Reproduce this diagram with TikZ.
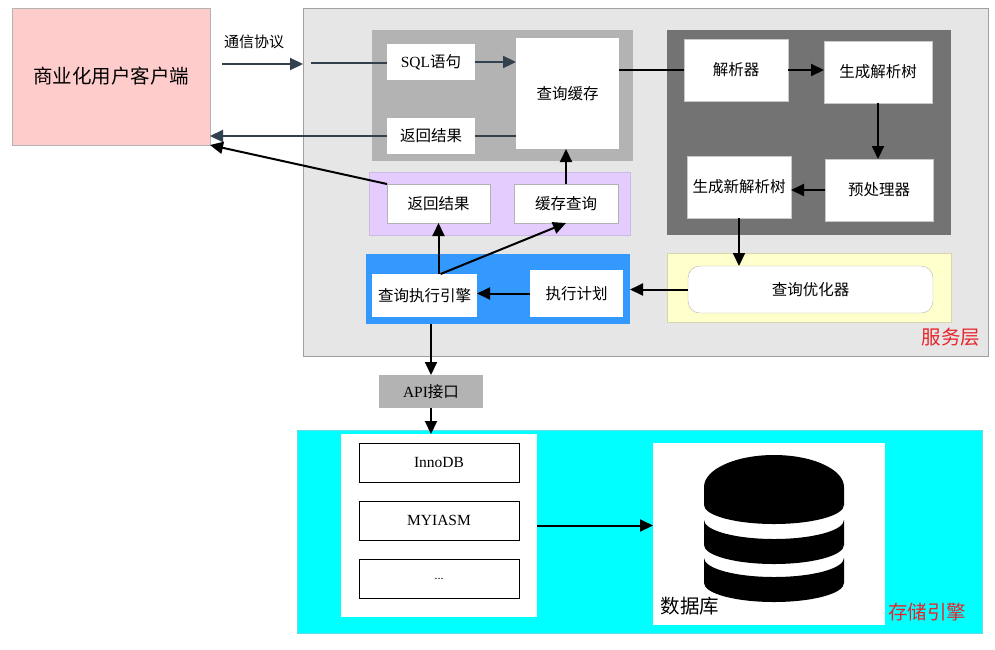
\documentclass[tikz,border=0pt]{standalone}
\usepackage{fontspec}
\setmainfont{Liberation Serif}
\newfontfamily\cjk{Noto Sans CJK SC}
\usepackage{tikz}
\usetikzlibrary{arrows.meta}
\definecolor{slate}{HTML}{33414F}
\definecolor{layerred}{HTML}{E8242B}

\begin{document}
\begin{tikzpicture}[x=1pt, y=-1pt,
                    area/.style={anchor=north west, inner sep=0pt, outer sep=0pt},
                    box/.style={area, fill=white, align=center, font=\cjk\fontsize{15.5}{18}\selectfont},
                    big/.style={font=\cjk\fontsize{19.5}{22}\selectfont},
                    flow/.style={line width=2pt, -{Triangle[length=13pt,width=12pt]}},
                    proto/.style={line width=2.2pt, draw=slate, fill=slate, -{Triangle[length=13pt,width=12pt]}}]
                    \useasboundingbox (0,0) rectangle (995,649);
                    % client and service layer
                    \node[area, big, fill={rgb,255:red,255;green,204;blue,204}, draw={rgb,255:red,179;green,179;blue,179}, minimum width=198pt, minimum height=137pt] (client) at (12,8) {商业化用户客户端};
                    \node[area, fill={rgb,255:red,230;green,230;blue,230}, draw={rgb,255:red,160;green,160;blue,160}, minimum width=685pt, minimum height=348pt] (service) at (303,8) {};
                    \node[font=\cjk\fontsize{15}{18}\selectfont] (proto) at (254,42) {通信协议};
                    \node[big, text=layerred, anchor=east] (servicelabel) at (984,337) {服务层};
                    \node[area, fill={rgb,255:red,179;green,179;blue,179}, minimum width=261pt, minimum height=131pt] (cachegrp) at (372,30) {};
                    \node[area, fill={rgb,255:red,115;green,115;blue,115}, minimum width=284pt, minimum height=205pt] (parsegrp) at (667,30) {};
                    \node[area, fill={rgb,255:red,229;green,204;blue,255}, draw={rgb,255:red,205;green,185;blue,230}, minimum width=261pt, minimum height=63pt] (resgrp) at (369,172) {};
                    \node[area, fill={rgb,255:red,255;green,255;blue,204}, draw={rgb,255:red,214;green,214;blue,173}, minimum width=284pt, minimum height=69pt] (optgrp) at (667,253) {};
                    \node[area, fill={rgb,255:red,51;green,153;blue,255}, minimum width=264pt, minimum height=70pt] (execgrp) at (366,254) {};
                    % boxes
                    \node[box, minimum width=88pt, minimum height=36pt] (sql) at (387,44) {{\rmfamily SQL}语句};
                    \node[box, minimum width=88pt, minimum height=36pt] (ret) at (387,118) {返回结果};
                    \node[box, minimum width=103pt, minimum height=111pt] (cache) at (516,38) {查询缓存};
                    \node[box, draw={rgb,255:red,200;green,200;blue,200}, minimum width=104pt, minimum height=62pt] (parser) at (684,39) {解析器};
                    \node[box, draw={rgb,255:red,200;green,200;blue,200}, minimum width=108pt, minimum height=62pt] (tree) at (824,41) {生成解析树};
                    \node[box, draw={rgb,255:red,200;green,200;blue,200}, minimum width=108pt, minimum height=62pt] (pre) at (825,159) {预处理器};
                    \node[box, draw={rgb,255:red,200;green,200;blue,200}, minimum width=104pt, minimum height=62pt] (newtree) at (687,156) {生成新解析树};
                    \node[box, draw={rgb,255:red,179;green,179;blue,179}, minimum width=103pt, minimum height=39pt] (retres) at (387,184) {返回结果};
                    \node[box, draw={rgb,255:red,179;green,179;blue,179}, minimum width=104pt, minimum height=39pt] (cachequery) at (514,184) {缓存查询};
                    \node[box, draw={rgb,255:red,179;green,179;blue,179}, rounded corners=12pt, minimum width=245pt, minimum height=47pt] (optimizer) at (688,266) {查询优化器};
                    \node[box, minimum width=105pt, minimum height=43pt] (engine) at (372,274) {查询执行引擎};
                    \node[box, minimum width=93pt, minimum height=47pt] (plan) at (530,270) {执行计划};
                    \node[box, fill={rgb,255:red,179;green,179;blue,179}, minimum width=104pt, minimum height=33pt] (api) at (379,375) {{\rmfamily API}接口};
                    % storage engine layer
                    \node[area, fill={rgb,255:red,0;green,255;blue,255}, draw={rgb,255:red,102;green,217;blue,232}, minimum width=685pt, minimum height=203pt] (storage) at (297,430) {};
                    \node[big, text=layerred, anchor=east] (storagelabel) at (970,612) {存储引擎};
                    \node[area, fill=white, minimum width=196pt, minimum height=183pt] (engines) at (341,434) {};
                    \node[box, draw=black, font=\fontsize{15.5}{18}\selectfont, minimum width=160pt, minimum height=39pt] (innodb) at (359,443) {InnoDB};
                    \node[box, draw=black, font=\fontsize{15.5}{18}\selectfont, minimum width=160pt, minimum height=39pt] (myiasm) at (359,501) {MYIASM};
                    \node[box, draw=black, font=\fontsize{12}{14}\selectfont, minimum width=160pt, minimum height=39pt] (more) at (359,559) {...};
                    \node[area, fill=white, minimum width=232pt, minimum height=182pt] (db) at (653,443) {};
                    \node[big, anchor=west] (dblabel) at (657,606) {数据库};
                    \fill (704,487) arc[start angle=180, end angle=360, x radius=70, y radius=32] -- (844,505) arc[start angle=0, end angle=180, x radius=70, y radius=19] -- cycle;
                    \fill (704,520) arc[start angle=180, end angle=0, x radius=70, y radius=19] -- (844,545) arc[start angle=0, end angle=180, x radius=70, y radius=19] -- cycle;
                    \fill (704,558) arc[start angle=180, end angle=0, x radius=70, y radius=19] -- (844,583) arc[start angle=0, end angle=180, x radius=70, y radius=19] -- cycle;
                    % connectors
                    \coordinate (send) at (222,64);
                    \coordinate (enter) at (311,63);
                    \draw[proto] (send) -- (send -| service.west);
                    \draw[proto, -] (enter) -- (enter -| sql.west);
                    \draw[proto] (sql.east) -- (sql.east -| cache.west);
                    \draw[proto, -] (ret.east) -- (ret.east -| cache.west);
                    \draw[proto] (ret.west) -- (ret.west -| client.east);
                    \draw[flow] (retres.north west) -- (client.south east);
                    \draw[line width=2pt] (parser.west -| cache.east) -- (parser.west);
                    \draw[flow] (parser.east) -- (parser.east -| tree.west);
                    \draw[flow] (tree.south) -- (tree.south |- pre.north);
                    \draw[flow] (pre.west) -- (pre.west -| newtree.east);
                    \draw[flow] (newtree.south) -- (newtree.south |- optimizer.north);
                    \draw[flow] (optimizer.west) -- (optimizer.west -| execgrp.east);
                    \draw[flow] (plan.west) -- (plan.west -| engine.east);
                    \draw[flow] (retres.south |- engine.north) -- (retres.south);
                    \draw[flow] ([xshift=2pt]retres.south |- engine.north) -- (cachequery.south);
                    \draw[flow] (cachequery.north) -- (cachequery.north |- cache.south);
                    \draw[flow] (api.north |- execgrp.south) -- (api.north);
                    \draw[flow] (api.south) -- (api.south |- engines.north);
                    \draw[flow] (engines.east) -- (engines.east -| db.west);
                \end{tikzpicture}
\end{document}
